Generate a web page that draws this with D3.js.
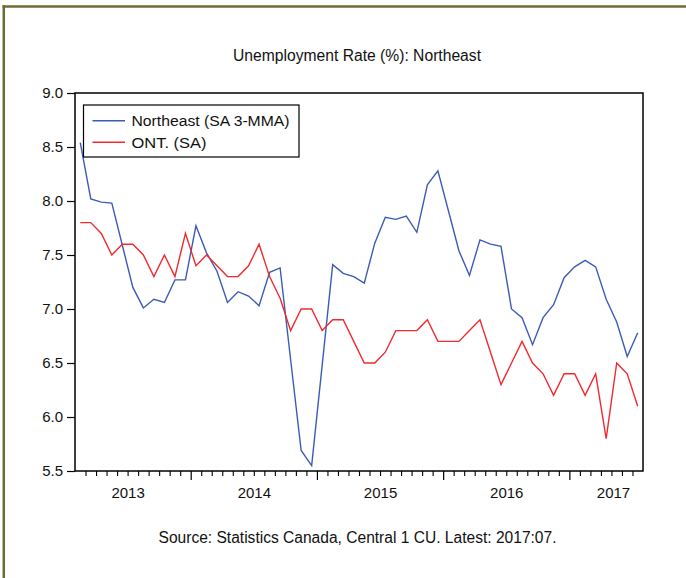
<!DOCTYPE html>
<html>
<head>
<meta charset="utf-8">
<script src="https://cdn.jsdelivr.net/npm/d3@7"></script>
<style>
  html, body { margin: 0; padding: 0; background: #ffffff; }
  svg { display: block; }
  text { font-family: "Liberation Sans", Arial, sans-serif; fill: #111; }
</style>
</head>
<body>
<svg id="chart" width="686" height="578"></svg>
<script>
// ---- data ----
const months = [
  "2013:02","2013:03","2013:04","2013:05","2013:06","2013:07","2013:08","2013:09","2013:10","2013:11","2013:12",
  "2014:01","2014:02","2014:03","2014:04","2014:05","2014:06","2014:07","2014:08","2014:09","2014:10","2014:11","2014:12",
  "2015:01","2015:02","2015:03","2015:04","2015:05","2015:06","2015:07","2015:08","2015:09","2015:10","2015:11","2015:12",
  "2016:01","2016:02","2016:03","2016:04","2016:05","2016:06","2016:07","2016:08","2016:09","2016:10","2016:11","2016:12",
  "2017:01","2017:02","2017:03","2017:04","2017:05","2017:06","2017:07"
];
const northeast = [
  8.54, 8.02, 7.99, 7.98, 7.59, 7.20, 7.01, 7.09, 7.06, 7.27, 7.27,
  7.77, 7.52, 7.35, 7.06, 7.16, 7.12, 7.03, 7.34, 7.38, 6.53, 5.69, 5.55,
  6.48, 7.41, 7.33, 7.30, 7.24, 7.61, 7.85, 7.83, 7.86, 7.71, 8.15, 8.28,
  7.91, 7.54, 7.31, 7.64, 7.60, 7.58, 7.00, 6.92, 6.67, 6.92, 7.04, 7.29,
  7.39, 7.45, 7.39, 7.09, 6.88, 6.56, 6.78
];
const ontario = [
  7.8, 7.8, 7.7, 7.5, 7.6, 7.6, 7.5, 7.3, 7.5, 7.3, 7.7,
  7.4, 7.5, 7.4, 7.3, 7.3, 7.4, 7.6, 7.3, 7.1, 6.8, 7.0, 7.0,
  6.8, 6.9, 6.9, 6.7, 6.5, 6.5, 6.6, 6.8, 6.8, 6.8, 6.9, 6.7,
  6.7, 6.7, 6.8, 6.9, 6.6, 6.3, 6.5, 6.7, 6.5, 6.4, 6.2, 6.4,
  6.4, 6.2, 6.4, 5.8, 6.5, 6.4, 6.1
];
const seriesNames = ["Northeast (SA 3-MMA)", "ONT. (SA)"];
const yTicks = [5.5, 6.0, 6.5, 7.0, 7.5, 8.0, 8.5, 9.0];
const yearLabels = ["2013", "2014", "2015", "2016", "2017"];
const titleText = "Unemployment Rate (%): Northeast";
const sourceText = "Source: Statistics Canada, Central 1 CU. Latest: 2017:07.";

// ---- layout ----
const plot = { left: 75, right: 643, top: 93, bottom: 471 };
const colors = { ne: "#3b5bb8", ont: "#f02a2e", border: "#6f6b35" };

// month index helper: continuous month count
const mnum = s => { const [y, m] = s.split(":").map(Number); return y * 12 + (m - 1); };
const first = mnum(months[0]);
const last = mnum(months[months.length - 1]) + 1;

const x = d3.scaleLinear().domain([first, last]).range([plot.left, plot.right]);
const y = d3.scaleLinear().domain([5.5, 9.0]).range([plot.bottom, plot.top]);

const svg = d3.select("#chart");

// outer olive border (top + left)
svg.append("line").attr("x1", 2.5).attr("x2", 686).attr("y1", 6.5).attr("y2", 6.5)
  .attr("stroke", colors.border).attr("stroke-width", 2.5);
svg.append("line").attr("x1", 3.8).attr("x2", 3.8).attr("y1", 5.3).attr("y2", 578)
  .attr("stroke", colors.border).attr("stroke-width", 2.5);

// title
svg.append("text").attr("x", 357).attr("y", 61).attr("text-anchor", "middle")
  .attr("font-size", 16).attr("textLength", 248).attr("lengthAdjust", "spacingAndGlyphs")
  .text(titleText);

// lines
const line = d3.line()
  .x((d, i) => x(mnum(months[i]) + 0.5))
  .y(d => y(d));

svg.append("path").datum(northeast).attr("d", line)
  .attr("fill", "none").attr("stroke", colors.ne).attr("stroke-width", 1.4)
  .attr("stroke-linejoin", "miter");
svg.append("path").datum(ontario).attr("d", line)
  .attr("fill", "none").attr("stroke", colors.ont).attr("stroke-width", 1.4)
  .attr("stroke-linejoin", "miter");

// frame
svg.append("rect").attr("x", plot.left).attr("y", plot.top)
  .attr("width", plot.right - plot.left).attr("height", plot.bottom - plot.top)
  .attr("fill", "none").attr("stroke", "#000").attr("stroke-width", 1.5);

// y axis
const yAxis = d3.axisLeft(y).tickValues(yTicks).tickFormat(d3.format(".1f"))
  .tickSize(8).tickPadding(4);
const gy = svg.append("g").attr("transform", `translate(${plot.left},0)`).call(yAxis);
gy.select(".domain").remove();
gy.selectAll("line").attr("stroke", "#000").attr("stroke-width", 1.2);
gy.selectAll("text").attr("font-size", 15).attr("font-family", "Liberation Sans, Arial, sans-serif").attr("fill", "#111");

// x axis minor (month) ticks & major (year) ticks
const monthBounds = d3.range(first + 1, last);
const minorTicks = monthBounds.filter(m => m % 12 !== 0);
const majorTicks = monthBounds.filter(m => m % 12 === 0);
const gxMinor = svg.append("g").attr("transform", `translate(0,${plot.bottom})`)
  .call(d3.axisBottom(x).tickValues(minorTicks).tickSize(5).tickFormat(""));
gxMinor.select(".domain").remove();
gxMinor.selectAll("line").attr("stroke", "#000").attr("stroke-width", 1.1);
const gxMajor = svg.append("g").attr("transform", `translate(0,${plot.bottom})`)
  .call(d3.axisBottom(x).tickValues(majorTicks).tickSize(9).tickFormat(""));
gxMajor.select(".domain").remove();
gxMajor.selectAll("line").attr("stroke", "#000").attr("stroke-width", 1.2);

// year labels centred on each calendar year, kept inside the plot
const labelPos = yearLabels.map(yr => Math.min(x(+yr * 12 + 6), plot.right - 30));
const gxLab = svg.append("g").attr("transform", `translate(0,${plot.bottom})`)
  .call(d3.axisBottom(d3.scaleOrdinal().domain(yearLabels).range(labelPos)).tickSize(0).tickPadding(16));
gxLab.select(".domain").remove();
gxLab.selectAll("text").attr("font-size", 15).attr("font-family", "Liberation Sans, Arial, sans-serif").attr("fill", "#111");

// legend
const lg = svg.append("g");
lg.append("rect").attr("x", 83.5).attr("y", 105).attr("width", 215.5).attr("height", 52)
  .attr("fill", "#fff").attr("stroke", "#000").attr("stroke-width", 1.2);
[[seriesNames[0], colors.ne, 120.7, 158], [seriesNames[1], colors.ont, 142.3, 75]].forEach(([name, col, yy, len]) => {
  lg.append("line").attr("x1", 92.5).attr("x2", 125).attr("y1", yy).attr("y2", yy)
    .attr("stroke", col).attr("stroke-width", 1.4);
  lg.append("text").attr("x", 131.5).attr("y", yy + 5.5).attr("font-size", 15.5)
    .attr("textLength", len).attr("lengthAdjust", "spacingAndGlyphs").text(name);
});

// source
svg.append("text").attr("x", 357.5).attr("y", 543).attr("text-anchor", "middle")
  .attr("font-size", 16).attr("textLength", 398).attr("lengthAdjust", "spacingAndGlyphs")
  .text(sourceText);
</script>
</body>
</html>
